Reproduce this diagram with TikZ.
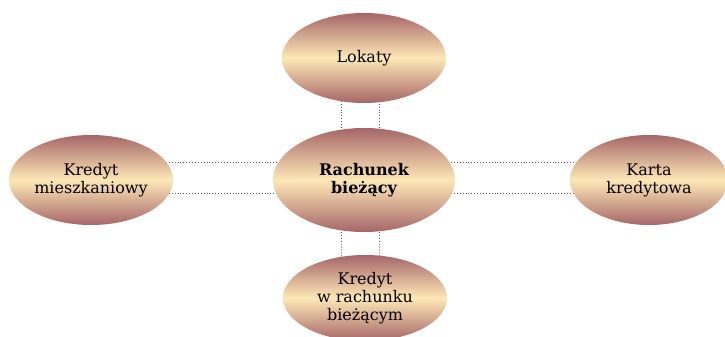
\documentclass[tikz,border=0pt]{standalone}
\usepackage{fontspec}
\setmainfont{DejaVu Serif}
\usetikzlibrary{shapes.geometric,backgrounds}
\definecolor{rose}{RGB}{166,102,104}
\definecolor{cream}{RGB}{253,232,182}
\definecolor{linegray}{RGB}{90,90,90}
\tikzset{
  bubble/.style={ellipse, inner sep=0pt, minimum width=164pt, minimum height=90pt,
    top color=rose, bottom color=rose, middle color=cream, align=center,
    font=\fontsize{16}{18}\selectfont, text=black},
  link/.style={draw=linegray, dotted, line width=0.9pt}
}
\begin{document}
\begin{tikzpicture}[x=1pt,y=-1pt]
\useasboundingbox (0,0) rectangle (725,337);
\node[bubble, minimum width=182pt, minimum height=104pt, font=\bfseries\fontsize{16}{18}\selectfont] (c) at (364,180) {Rachunek\\bieżący};
\node[bubble] (t) at (364,58) {Lokaty};
\node[bubble] (l) at (91,180) {Kredyt\\mieszkaniowy};
\node[bubble, minimum width=158pt] (r) at (649,180) {Karta\\kredytowa};
\node[bubble, minimum height=86pt] (b) at (365,298) {Kredyt\\w rachunku\\bieżącym};
\begin{scope}[on background layer]
\draw[link] ([xshift=-23pt]c.center) -- ([xshift=-23pt]t.center);
\draw[link] ([xshift=15pt]c.center) -- ([xshift=15pt]t.center);
\draw[link] ([xshift=-23pt]c.center) -- ([xshift=-23pt]b.center);
\draw[link] ([xshift=15pt]c.center) -- ([xshift=15pt]b.center);
\draw[link] ([yshift=18pt]c.center) -- ([yshift=18pt]l.center);
\draw[link] ([yshift=-13pt]c.center) -- ([yshift=-13pt]l.center);
\draw[link] ([yshift=18pt]c.center) -- ([yshift=18pt]r.center);
\draw[link] ([yshift=-13pt]c.center) -- ([yshift=-13pt]r.center);
\end{scope}
\end{tikzpicture}
\end{document}
